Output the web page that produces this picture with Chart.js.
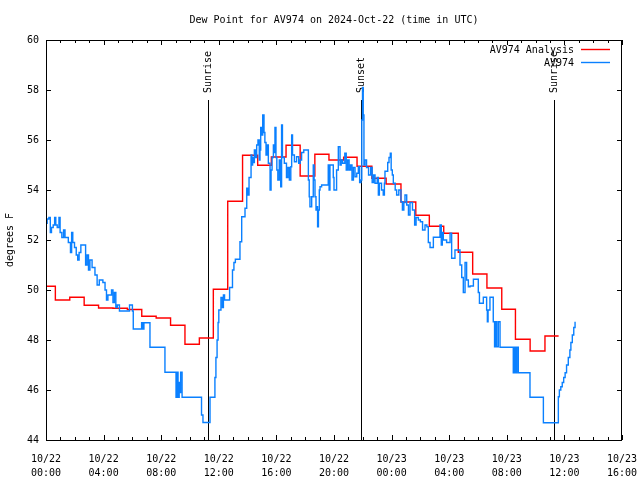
<!DOCTYPE html>
<html>
<head>
<meta charset="utf-8">
<title>Dew Point AV974</title>
<script src="https://cdn.jsdelivr.net/npm/chart.js@4.4.1/dist/chart.umd.min.js"></script>
<style>
    html, body { margin: 0; padding: 0; background: #fff; }
</style>
</head>
<body>
<canvas id="dewChart" width="640" height="480"></canvas>
<script>
// Text
const chartTitle = 'Dew Point for AV974 on 2024-Oct-22 (time in UTC)';
const yAxisLabel = 'degrees F';
const seriesNames = ['AV974 Analysis', 'AV974'];

// X axis: hours since 10/22 00:00 UTC, labelled every 4 hours
const xTickLabels = [
    ['10/22', '00:00'], ['10/22', '04:00'], ['10/22', '08:00'], ['10/22', '12:00'],
    ['10/22', '16:00'], ['10/22', '20:00'], ['10/23', '00:00'], ['10/23', '04:00'],
    ['10/23', '08:00'], ['10/23', '12:00'], ['10/23', '16:00']
];
const yTicks = [44, 46, 48, 50, 52, 54, 56, 58, 60];

// Sunrise / sunset markers (hours)
const sunHours = [11.28, 21.9, 35.3];
const sunLabels = ['Sunrise', 'Sunset', 'Sunrise'];

// Hourly analysis (step starts, degrees F)
const analysisHours = [0, 0.65, 1.65, 2.65, 3.65, 4.65, 5.65, 6.65, 7.65, 8.65, 9.65, 10.65,
    11.62, 12.62, 13.65, 14.7, 15.65, 16.67, 17.65, 18.67, 19.65, 20.67, 21.6, 22.63,
    23.62, 24.65, 25.68, 26.62, 27.62, 28.63, 29.63, 30.62, 31.65, 32.6, 33.62, 34.65, 35.6];
const analysisDew = [50.15, 49.6, 49.71, 49.39, 49.28, 49.27, 49.22, 48.95, 48.88, 48.59, 47.83, 48.08,
    50.03, 53.55, 55.39, 54.99, 55.32, 55.79, 54.56, 55.43, 55.2, 55.31, 54.95, 54.47,
    54.24, 53.52, 52.99, 52.55, 52.27, 51.51, 50.64, 50.08, 49.23, 48.03, 47.56, 48.16, 48.16];

// Station observations (hours, degrees F)
const obsHours = [
    0.00, 0.08, 0.20, 0.30, 0.38, 0.50, 0.60, 0.68, 0.78, 0.90, 0.98, 1.10, 1.22, 1.32, 1.55, 1.70,
    1.78, 1.86, 1.98, 2.10, 2.20, 2.30, 2.42, 2.75, 2.85, 2.95, 3.05, 3.20, 3.40, 3.55, 3.70, 3.95,
    4.10, 4.20, 4.30, 4.55, 4.65, 4.75, 4.85, 4.95, 5.10, 5.80, 6.00, 6.06, 6.64, 6.72, 6.80, 7.22,
    8.26, 9.03, 9.10, 9.17, 9.25, 9.30, 9.35, 9.45, 10.80, 10.90, 11.39, 11.73, 11.80, 11.88, 11.95, 12.00,
    12.15, 12.25, 12.32, 12.40, 12.75, 12.95, 13.05, 13.15, 13.47, 13.59, 13.82, 13.94, 14.02, 14.10, 14.24, 14.30,
    14.35, 14.42, 14.47, 14.55, 14.63, 14.72, 14.81, 14.86, 14.91, 15.00, 15.05, 15.14, 15.20, 15.28, 15.36, 15.44,
    15.56, 15.63, 15.70, 15.79, 15.85, 15.90, 15.97, 16.03, 16.10, 16.20, 16.30, 16.36, 16.42, 16.55, 16.70, 16.80,
    16.90, 17.00, 17.06, 17.12, 17.25, 17.40, 17.55, 17.65, 17.75, 17.90, 18.22, 18.28, 18.33, 18.45, 18.56, 18.62,
    18.68, 18.75, 18.80, 18.86, 18.92, 18.98, 19.03, 19.14, 19.60, 19.66, 19.72, 19.95, 20.00, 20.18, 20.30, 20.42,
    20.50, 20.60, 20.75, 20.85, 20.95, 21.05, 21.15, 21.25, 21.35, 21.46, 21.58, 21.69, 21.78, 21.87, 21.93, 21.98,
    22.03, 22.08, 22.15, 22.26, 22.40, 22.55, 22.65, 22.75, 22.85, 23.00, 23.08, 23.15, 23.30, 23.42, 23.50, 23.54,
    23.73, 23.82, 23.91, 23.97, 24.05, 24.12, 24.25, 24.35, 24.50, 24.65, 24.75, 24.85, 24.93, 25.05, 25.17, 25.28,
    25.45, 25.60, 25.70, 25.86, 26.00, 26.15, 26.32, 26.45, 26.55, 26.67, 26.90, 27.36, 27.45, 27.52, 27.59, 27.82,
    28.06, 28.17, 28.40, 28.75, 28.87, 28.98, 29.10, 29.21, 29.33, 29.45, 29.68, 30.02, 30.10, 30.37, 30.60, 30.65,
    30.70, 30.83, 31.06, 31.15, 31.22, 31.30, 31.41, 31.53, 32.45, 32.52, 32.62, 32.70, 32.80, 33.61, 34.54, 35.58,
    35.65, 35.75, 35.85, 35.95, 36.05, 36.15, 36.27, 36.38, 36.45, 36.55, 36.65, 36.74
];
const obsDew = [
    52.67, 52.84, 52.9, 52.3, 52.5, 52.6, 52.9, 52.6, 52.5, 52.9, 52.3, 52.1, 52.4, 52.1, 51.9, 51.5,
    52.3, 51.9, 51.7, 51.4, 51.2, 51.5, 51.8, 51.0, 51.4, 50.8, 51.2, 50.9, 50.6, 50.2, 50.4, 50.3,
    50.0, 49.6, 49.8, 50.0, 49.5, 49.9, 49.3, 49.4, 49.16, 49.4, 49.16, 48.44, 48.69, 48.44, 48.69, 47.71,
    46.71, 45.71, 46.71, 45.71, 46.3, 45.9, 46.71, 45.71, 45.0, 44.7, 45.71, 46.5, 47.3, 48.0, 48.7, 49.2,
    49.7, 49.3, 49.8, 49.6, 50.1, 50.8, 51.1, 51.23, 51.93, 52.93, 53.27, 54.07, 53.8, 54.5, 55.4, 55.0,
    55.3, 55.1, 55.6, 55.3, 55.8, 56.0, 55.2, 55.6, 56.5, 56.2, 57.0, 56.3, 55.9, 55.4, 55.8, 55.07,
    54.0, 54.8, 55.3, 55.8, 55.5, 56.5, 55.3, 54.8, 54.4, 55.2, 54.13, 56.6, 55.3, 55.07, 54.5, 54.9,
    54.4, 54.93, 56.2, 55.4, 55.13, 55.33, 55.07, 55.2, 55.5, 55.6, 54.4, 53.73, 53.33, 53.73, 55.0, 54.4,
    53.73, 53.2, 53.33, 52.53, 53.2, 54.0, 54.13, 54.2, 55.0, 54.0, 55.0, 54.5, 54.0, 54.8, 55.73, 55.0,
    55.2, 55.07, 55.47, 54.8, 55.2, 54.8, 55.0, 54.4, 54.9, 54.53, 54.67, 54.93, 54.3, 54.4, 56.8, 58.1,
    57.0, 55.0, 55.2, 54.9, 54.6, 54.9, 54.3, 54.6, 54.27, 54.5, 53.8, 54.27, 54.0, 53.8, 54.27, 54.75,
    55.1, 55.3, 55.47, 54.8, 54.6, 54.27, 54.0, 53.8, 54.0, 53.53, 53.2, 53.5, 53.8, 53.4, 53.0, 53.5,
    53.2, 52.6, 52.9, 52.8, 52.73, 52.4, 52.6, 52.53, 51.9, 51.7, 52.11, 52.6, 51.8, 52.3, 52.0, 51.9,
    52.27, 51.27, 51.6, 51.0, 50.5, 49.9, 51.1, 50.4, 50.13, 50.16, 50.43, 49.9, 49.47, 49.71, 49.2, 48.73,
    49.2, 49.71, 48.73, 47.73, 48.73, 47.73, 48.73, 47.71, 46.69, 47.71, 46.69, 47.71, 46.69, 45.71, 44.69, 45.73,
    46.0, 46.13, 46.3, 46.5, 46.69, 47.0, 47.3, 47.6, 47.9, 48.2, 48.5, 48.73
];

const monoFont = '"DejaVu Sans Mono", "Liberation Mono", monospace';

// gnuplot-like frame, inward ticks, title, legend and sun markers
const gnuplotDecor = {
    id: 'gnuplotDecor',
    beforeDatasetsDraw(chart) {
        const ctx = chart.ctx;
        const area = chart.chartArea;
        const xs = chart.scales.x;
        const lineTop = area.top + 0.15 * (area.bottom - area.top);
        ctx.save();
        ctx.strokeStyle = '#000';
        ctx.lineWidth = 1;
        ctx.fillStyle = '#000';
        ctx.font = '10px ' + monoFont;
        sunHours.forEach((h, i) => {
            const x = Math.round(xs.getPixelForValue(h)) + 0.5;
            ctx.beginPath();
            ctx.moveTo(x, lineTop);
            ctx.lineTo(x, area.bottom);
            ctx.stroke();
            ctx.save();
            ctx.translate(x, lineTop - 7);
            ctx.rotate(-Math.PI / 2);
            ctx.textAlign = 'left';
            ctx.textBaseline = 'middle';
            ctx.fillText(sunLabels[i], 0, 0);
            ctx.restore();
        });
        ctx.restore();
    },
    afterDraw(chart) {
        const ctx = chart.ctx;
        const area = chart.chartArea;
        const xs = chart.scales.x;
        const ys = chart.scales.y;
        ctx.save();
        ctx.strokeStyle = '#000';
        ctx.lineWidth = 1;

        // frame
        ctx.strokeRect(area.left + 0.5, area.top + 0.5, area.right - area.left - 1, area.bottom - area.top);

        // x ticks, every hour, longer every 4 hours
        ctx.beginPath();
        for (let h = 0; h <= 40; h++) {
            const x = Math.round(xs.getPixelForValue(h)) + 0.5;
            const len = h % 4 === 0 ? 5 : 3;
            ctx.moveTo(x, area.bottom);
            ctx.lineTo(x, area.bottom - len);
            ctx.moveTo(x, area.top);
            ctx.lineTo(x, area.top + len);
        }
        // y ticks
        yTicks.forEach(v => {
            const y = Math.round(ys.getPixelForValue(v)) + 0.5;
            ctx.moveTo(area.left, y);
            ctx.lineTo(area.left + 5, y);
            ctx.moveTo(area.right, y);
            ctx.lineTo(area.right - 5, y);
        });
        ctx.stroke();

        ctx.fillStyle = '#000';
        ctx.font = '10px ' + monoFont;

        // title
        ctx.textAlign = 'center';
        ctx.textBaseline = 'middle';
        ctx.fillText(chartTitle, (area.left + area.right) / 2, 20);

        // y axis label
        ctx.save();
        ctx.translate(10, (area.top + area.bottom) / 2);
        ctx.rotate(-Math.PI / 2);
        ctx.fillText(yAxisLabel, 0, 0);
        ctx.restore();

        // legend: text, then a line sample
        ctx.textAlign = 'right';
        ctx.lineWidth = 1.4;
        chart.data.datasets.slice().sort((a, b) => b.order - a.order).forEach((ds, i) => {
            const y = 50 + i * 13;
            ctx.fillText(ds.label, 574, y);
            ctx.strokeStyle = ds.borderColor;
            ctx.beginPath();
            ctx.moveTo(581, Math.round(y) - 0.5);
            ctx.lineTo(610, Math.round(y) - 0.5);
            ctx.stroke();
        });
        ctx.restore();
    }
};

const ctx = document.getElementById('dewChart').getContext('2d');
const dewChart = new Chart(ctx, {
    type: 'line',
    data: {
        datasets: [{
            label: seriesNames[1],
            data: obsHours.map((h, i) => ({ x: h, y: obsDew[i] })),
            borderColor: '#0a80ff',
            borderWidth: 1.4,
            pointRadius: 0,
            stepped: 'before',
            fill: false,
            order: 1
        }, {
            label: seriesNames[0],
            data: analysisHours.map((h, i) => ({ x: h, y: analysisDew[i] })),
            borderColor: '#ff0000',
            borderWidth: 1.4,
            pointRadius: 0,
            stepped: 'before',
            fill: false,
            order: 2
        }]
    },
    options: {
        responsive: false,
        animation: false,
        devicePixelRatio: 1,
        layout: { padding: { top: 40, right: 18, left: 0, bottom: 0 } },
        plugins: {
            legend: { display: false },
            title: { display: false },
            tooltip: { enabled: false }
        },
        scales: {
            x: {
                type: 'linear',
                min: 0,
                max: 40,
                grid: { display: false, drawTicks: false },
                border: { display: false },
                ticks: {
                    stepSize: 4,
                    autoSkip: false,
                    maxRotation: 0,
                    padding: 12,
                    color: '#000',
                    font: { family: monoFont, size: 10, lineHeight: 1.4 },
                    callback: (v) => xTickLabels[v / 4]
                },
                afterFit: (scale) => {
                    scale.height = 40;
                    scale.paddingLeft = 0;
                    scale.paddingRight = 0;
                }
            },
            y: {
                min: 44,
                max: 60,
                grid: { display: false, drawTicks: false },
                border: { display: false },
                ticks: {
                    stepSize: 2,
                    padding: 7,
                    color: '#000',
                    font: { family: monoFont, size: 10 }
                },
                afterFit: (scale) => { scale.width = 46; }
            }
        }
    },
    plugins: [gnuplotDecor]
});
</script>
</body>
</html>
